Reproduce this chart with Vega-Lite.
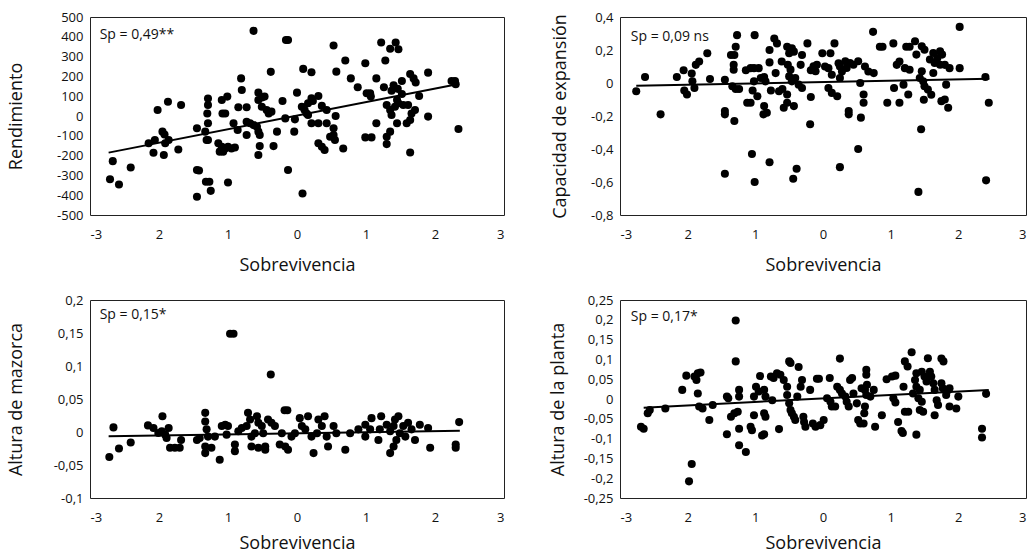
{
"$schema": "https://vega.github.io/schema/vega-lite/v6.json",
"padding": {"left": 6, "top": 10, "right": 0, "bottom": 0},
"background": "white",
"bounds": "flush",
"columns": 2,
"spacing": {"row": 85, "column": 116},
"config": {
  "font": "Open Sans",
  "view": {"stroke": "#222", "strokeWidth": 1},
  "axis": {"grid": false, "domain": false, "ticks": false, "tickSize": 0, "labelFont": "Open Sans", "labelFontSize": 13, "labelColor": "#111", "titleFont": "Open Sans", "titleFontSize": 18, "titleFontWeight": "normal", "titleColor": "#111"},
  "axisX": {"labelPadding": 13},
  "axisY": {"labelPadding": 7},
  "locale": {"number": {"decimal": ",", "thousands": ".", "grouping": [3], "currency": ["", ""], "minus": "-"}}
},
"datasets": {
  "p1": [{"x":-0.63,"y":430},{"x":-0.16,"y":384},{"x":-0.13,"y":384},{"x":0.53,"y":356},{"x":1.22,"y":371},{"x":1.43,"y":371},{"x":1.47,"y":337},{"x":1.35,"y":340},{"x":0.70,"y":280},{"x":1.28,"y":280},{"x":0.99,"y":266},{"x":-0.38,"y":223},{"x":0.09,"y":238},{"x":0.21,"y":221},{"x":0.57,"y":224},{"x":1.90,"y":219},{"x":-0.81,"y":190},{"x":0.78,"y":190},{"x":1.15,"y":190},{"x":1.64,"y":212},{"x":1.69,"y":190},{"x":1.72,"y":169},{"x":2.29,"y":177},{"x":2.30,"y":160},{"x":0.88,"y":145},{"x":1.26,"y":145},{"x":1.37,"y":128},{"x":1.52,"y":177},{"x":1.40,"y":155},{"x":1.46,"y":137},{"x":1.52,"y":111},{"x":1.77,"y":101},{"x":1.01,"y":115},{"x":1.06,"y":115},{"x":1.07,"y":98},{"x":0.0,"y":118},{"x":0.31,"y":101},{"x":0.21,"y":89},{"x":0.23,"y":76},{"x":-0.80,"y":131},{"x":-0.56,"y":118},{"x":-0.51,"y":94},{"x":-0.47,"y":98},{"x":-0.21,"y":76},{"x":-1.01,"y":98},{"x":-1.09,"y":81},{"x":-1.29,"y":88},{"x":-1.29,"y":56},{"x":-1.87,"y":72},{"x":-2.02,"y":30},{"x":-1.68,"y":56},{"x":-1.30,"y":13},{"x":-1.04,"y":13},{"x":-1.08,"y":13},{"x":-0.85,"y":44},{"x":-0.73,"y":44},{"x":-0.56,"y":81},{"x":-0.51,"y":47},{"x":-0.44,"y":30},{"x":-0.41,"y":13},{"x":-0.37,"y":22},{"x":0.07,"y":47},{"x":0.11,"y":30},{"x":0.14,"y":13},{"x":0.16,"y":64},{"x":0.36,"y":51},{"x":0.43,"y":30},{"x":0.56,"y":0},{"x":-0.03,"y":-17},{"x":-0.17,"y":-12},{"x":0.16,"y":5},{"x":0.21,"y":-37},{"x":0.31,"y":-37},{"x":0.43,"y":-37},{"x":0.53,"y":-62},{"x":1.15,"y":-37},{"x":1.30,"y":56},{"x":1.35,"y":30},{"x":1.37,"y":5},{"x":1.45,"y":81},{"x":1.47,"y":64},{"x":1.54,"y":56},{"x":1.42,"y":47},{"x":1.61,"y":56},{"x":1.66,"y":13},{"x":1.64,"y":-20},{"x":1.59,"y":-37},{"x":1.71,"y":30},{"x":1.90,"y":-3},{"x":1.45,"y":-37},{"x":2.34,"y":-66},{"x":0.99,"y":-108},{"x":1.08,"y":-108},{"x":1.35,"y":-79},{"x":1.30,"y":-105},{"x":1.30,"y":-142},{"x":1.64,"y":-184},{"x":0.48,"y":-105},{"x":0.53,"y":-96},{"x":0.55,"y":-121},{"x":0.67,"y":-164},{"x":0.31,"y":-138},{"x":0.36,"y":-155},{"x":0.40,"y":-172},{"x":-0.04,"y":-79},{"x":-0.29,"y":-79},{"x":-0.13,"y":-273},{"x":0.08,"y":-391},{"x":-0.34,"y":-152},{"x":-0.56,"y":-79},{"x":-0.54,"y":-96},{"x":-0.58,"y":-54},{"x":-0.73,"y":-29},{"x":-0.68,"y":-37},{"x":-0.63,"y":-46},{"x":-0.73,"y":-96},{"x":-0.86,"y":-71},{"x":-0.92,"y":-37},{"x":-0.54,"y":-152},{"x":-0.56,"y":-197},{"x":-1.00,"y":-155},{"x":-0.95,"y":-164},{"x":-0.90,"y":-159},{"x":-1.04,"y":-164},{"x":-1.09,"y":-155},{"x":-1.14,"y":-138},{"x":-1.12,"y":-180},{"x":-1.07,"y":-180},{"x":-1.29,"y":-121},{"x":-1.31,"y":-121},{"x":-1.33,"y":-79},{"x":-1.29,"y":-37},{"x":-1.45,"y":-62},{"x":-1.45,"y":-273},{"x":-1.42,"y":-275},{"x":-1.32,"y":-332},{"x":-1.27,"y":-332},{"x":-1.25,"y":-378},{"x":-1.45,"y":-408},{"x":-1.00,"y":-336},{"x":-1.72,"y":-169},{"x":-1.86,"y":-121},{"x":-1.91,"y":-138},{"x":-1.95,"y":-79},{"x":-1.92,"y":-93},{"x":-2.06,"y":-121},{"x":-2.15,"y":-138},{"x":-2.08,"y":-186},{"x":-1.93,"y":-197},{"x":-2.41,"y":-260},{"x":-2.67,"y":-228},{"x":-2.71,"y":-319},{"x":-2.58,"y":-346},{"x":2.24,"y":177}],
  "p2": [{"x":-2.76,"y":-0.05},{"x":-2.63,"y":0.036},{"x":-2.40,"y":-0.19},{"x":-2.16,"y":0.036},{"x":-2.06,"y":0.077},{"x":-2.05,"y":-0.045},{"x":-2.01,"y":-0.07},{"x":-1.94,"y":0.057},{"x":-1.93,"y":0.01},{"x":-1.90,"y":-0.03},{"x":-1.88,"y":0.11},{"x":-1.83,"y":0.13},{"x":-1.71,"y":0.18},{"x":-1.67,"y":0.024},{"x":-1.45,"y":0.02},{"x":-1.45,"y":-0.19},{"x":-1.45,"y":-0.17},{"x":-1.31,"y":-0.23},{"x":-1.27,"y":0.29},{"x":-1.29,"y":0.22},{"x":-1.31,"y":0.17},{"x":-1.36,"y":0.17},{"x":-1.32,"y":0.11},{"x":-1.32,"y":0.08},{"x":-1.34,"y":-0.02},{"x":-1.29,"y":-0.036},{"x":-1.24,"y":-0.036},{"x":-1.14,"y":0.077},{"x":-1.07,"y":0.09},{"x":-1.02,"y":0.09},{"x":-0.95,"y":0.09},{"x":-1.01,"y":0.29},{"x":-1.04,"y":-0.045},{"x":-0.97,"y":-0.08},{"x":-1.12,"y":-0.12},{"x":-1.07,"y":-0.12},{"x":-0.87,"y":-0.14},{"x":-0.88,"y":-0.19},{"x":-0.83,"y":-0.18},{"x":-0.92,"y":0.03},{"x":-0.87,"y":0.036},{"x":-0.85,"y":0.01},{"x":-1.02,"y":0.01},{"x":-0.79,"y":0.20},{"x":-0.79,"y":0.125},{"x":-0.77,"y":-0.045},{"x":-0.70,"y":0.06},{"x":-0.72,"y":0.27},{"x":-0.68,"y":0.24},{"x":-0.61,"y":0.13},{"x":-0.65,"y":-0.05},{"x":-0.60,"y":-0.036},{"x":-0.53,"y":-0.07},{"x":-0.53,"y":-0.12},{"x":-0.58,"y":-0.15},{"x":-0.43,"y":-0.14},{"x":-0.53,"y":0.22},{"x":-0.46,"y":0.21},{"x":-0.43,"y":0.19},{"x":-0.50,"y":0.18},{"x":-0.52,"y":0.111},{"x":-0.48,"y":0.081},{"x":-0.50,"y":0.040},{"x":-0.46,"y":0.010},{"x":-0.41,"y":0.030},{"x":-0.36,"y":-0.01},{"x":-0.31,"y":-0.03},{"x":-0.33,"y":0.11},{"x":-0.31,"y":0.17},{"x":-0.23,"y":0.24},{"x":-0.18,"y":0.077},{"x":-0.14,"y":0.101},{"x":-0.11,"y":0.071},{"x":-0.09,"y":0.111},{"x":-0.18,"y":-0.085},{"x":-0.19,"y":-0.25},{"x":-0.01,"y":0.18},{"x":0.11,"y":0.18},{"x":0.03,"y":0.10},{"x":0.08,"y":0.09},{"x":0.13,"y":0.05},{"x":0.08,"y":-0.03},{"x":0.13,"y":-0.06},{"x":0.21,"y":-0.08},{"x":0.17,"y":0.24},{"x":0.23,"y":0.12},{"x":0.25,"y":0.10},{"x":0.25,"y":0.03},{"x":0.28,"y":0.07},{"x":0.33,"y":0.132},{"x":0.35,"y":0.091},{"x":0.40,"y":0.121},{"x":0.45,"y":0.111},{"x":0.52,"y":0.132},{"x":0.38,"y":-0.17},{"x":0.38,"y":-0.19},{"x":0.56,"y":-0.21},{"x":0.55,"y":0.0},{"x":0.60,"y":-0.07},{"x":0.60,"y":-0.12},{"x":0.62,"y":0.10},{"x":0.67,"y":0.07},{"x":0.75,"y":0.06},{"x":0.74,"y":0.31},{"x":0.84,"y":0.22},{"x":0.88,"y":0.22},{"x":1.04,"y":0.24},{"x":0.95,"y":-0.12},{"x":1.13,"y":-0.12},{"x":1.05,"y":-0.03},{"x":1.09,"y":0.11},{"x":1.13,"y":0.13},{"x":1.19,"y":-0.01},{"x":1.26,"y":-0.07},{"x":1.23,"y":0.22},{"x":1.28,"y":0.22},{"x":1.21,"y":0.09},{"x":1.28,"y":0.08},{"x":1.36,"y":0.253},{"x":1.38,"y":0.172},{"x":1.46,"y":0.223},{"x":1.50,"y":0.202},{"x":1.46,"y":0.071},{"x":1.43,"y":0.030},{"x":1.48,"y":0.010},{"x":1.50,"y":-0.020},{"x":1.55,"y":-0.040},{"x":1.60,"y":-0.071},{"x":1.49,"y":-0.101},{"x":1.58,"y":0.142},{"x":1.63,"y":0.182},{"x":1.65,"y":0.121},{"x":1.69,"y":0.152},{"x":1.73,"y":0.192},{"x":1.63,"y":0.061},{"x":1.73,"y":0.111},{"x":1.76,"y":0.172},{"x":1.45,"y":-0.28},{"x":1.80,"y":0.11},{"x":1.87,"y":0.09},{"x":2.02,"y":0.09},{"x":1.82,"y":-0.01},{"x":1.75,"y":-0.11},{"x":1.80,"y":-0.10},{"x":1.85,"y":-0.15},{"x":2.02,"y":0.34},{"x":2.40,"y":0.036},{"x":2.45,"y":-0.12},{"x":2.41,"y":-0.59},{"x":1.41,"y":-0.66},{"x":-1.45,"y":-0.55},{"x":-1.01,"y":-0.60},{"x":-1.05,"y":-0.43},{"x":-0.79,"y":-0.48},{"x":-0.39,"y":-0.52},{"x":-0.44,"y":-0.58},{"x":0.25,"y":-0.51},{"x":0.52,"y":-0.40}],
  "p3": [{"x":-0.97,"y":0.149},{"x":-0.92,"y":0.149},{"x":-0.38,"y":0.087},{"x":-0.18,"y":0.033},{"x":-0.14,"y":0.033},{"x":-2.66,"y":0.007},{"x":-2.72,"y":-0.038},{"x":-2.58,"y":-0.025},{"x":-2.41,"y":-0.016},{"x":-2.16,"y":0.01},{"x":-2.08,"y":0.006},{"x":-1.95,"y":0.024},{"x":-2.01,"y":-0.0015},{"x":-1.96,"y":0.001},{"x":-1.91,"y":-0.004},{"x":-1.86,"y":0.006},{"x":-1.89,"y":-0.009},{"x":-1.84,"y":-0.024},{"x":-1.77,"y":-0.024},{"x":-1.70,"y":-0.024},{"x":-1.68,"y":-0.012},{"x":-1.45,"y":-0.012},{"x":-1.41,"y":-0.009},{"x":-1.33,"y":0.029},{"x":-1.33,"y":0.016},{"x":-1.31,"y":0.004},{"x":-1.29,"y":-0.007},{"x":-1.33,"y":-0.022},{"x":-1.33,"y":-0.032},{"x":-1.24,"y":-0.024},{"x":-1.12,"y":-0.042},{"x":-1.19,"y":-0.007},{"x":-1.09,"y":0.009},{"x":-1.04,"y":0.011},{"x":-1.00,"y":0.009},{"x":-1.02,"y":-0.004},{"x":-0.90,"y":-0.019},{"x":-0.90,"y":-0.029},{"x":-0.85,"y":0.001},{"x":-0.80,"y":0.006},{"x":-0.73,"y":0.009},{"x":-0.71,"y":0.029},{"x":-0.68,"y":0.019},{"x":-0.66,"y":-0.007},{"x":-0.61,"y":-0.002},{"x":-0.66,"y":-0.022},{"x":-0.58,"y":0.024},{"x":-0.56,"y":0.014},{"x":-0.51,"y":0.009},{"x":-0.49,"y":-0.002},{"x":-0.46,"y":-0.022},{"x":-0.56,"y":-0.024},{"x":-0.46,"y":-0.027},{"x":-0.42,"y":0.019},{"x":-0.37,"y":0.014},{"x":-0.32,"y":0.009},{"x":-0.22,"y":-0.002},{"x":-0.25,"y":-0.019},{"x":-0.17,"y":-0.022},{"x":-0.13,"y":-0.027},{"x":-0.08,"y":-0.007},{"x":-0.03,"y":-0.002},{"x":0.04,"y":0.021},{"x":0.07,"y":0.009},{"x":0.12,"y":0.004},{"x":0.16,"y":0.024},{"x":0.21,"y":-0.007},{"x":0.24,"y":-0.032},{"x":0.29,"y":-0.002},{"x":0.31,"y":0.019},{"x":0.36,"y":0.009},{"x":0.40,"y":0.024},{"x":0.43,"y":-0.007},{"x":0.45,"y":-0.022},{"x":0.53,"y":0.009},{"x":0.57,"y":-0.002},{"x":0.70,"y":-0.027},{"x":0.77,"y":-0.002},{"x":0.89,"y":0.004},{"x":0.99,"y":0.011},{"x":0.99,"y":-0.007},{"x":1.06,"y":0.004},{"x":1.08,"y":0.021},{"x":1.18,"y":-0.012},{"x":1.20,"y":0.004},{"x":1.22,"y":0.024},{"x":1.30,"y":0.011},{"x":1.35,"y":0.001},{"x":1.40,"y":0.009},{"x":1.42,"y":0.019},{"x":1.47,"y":0.024},{"x":1.35,"y":-0.032},{"x":1.40,"y":-0.022},{"x":1.44,"y":-0.012},{"x":1.49,"y":-0.002},{"x":1.54,"y":0.009},{"x":1.57,"y":-0.007},{"x":1.61,"y":0.014},{"x":1.66,"y":0.004},{"x":1.71,"y":-0.012},{"x":1.78,"y":0.011},{"x":1.90,"y":0.006},{"x":1.93,"y":-0.024},{"x":2.30,"y":-0.024},{"x":2.30,"y":-0.019},{"x":2.35,"y":0.015}],
  "p4": [{"x":-1.29,"y":0.198},{"x":-1.29,"y":0.095},{"x":-1.98,"y":-0.208},{"x":-1.94,"y":-0.164},{"x":-2.69,"y":-0.07},{"x":-2.65,"y":-0.075},{"x":-2.59,"y":-0.036},{"x":-2.56,"y":-0.028},{"x":-2.33,"y":-0.024},{"x":-2.08,"y":0.023},{"x":-2.02,"y":0.059},{"x":-1.90,"y":0.057},{"x":-1.85,"y":0.065},{"x":-1.81,"y":0.067},{"x":-1.87,"y":0.048},{"x":-1.85,"y":0.014},{"x":-1.83,"y":-0.019},{"x":-1.78,"y":-0.024},{"x":-1.68,"y":-0.053},{"x":-1.63,"y":-0.015},{"x":-1.42,"y":0.006},{"x":-1.40,"y":0.002},{"x":-1.42,"y":-0.089},{"x":-1.36,"y":-0.045},{"x":-1.31,"y":-0.036},{"x":-1.26,"y":-0.032},{"x":-1.24,"y":0.023},{"x":-1.24,"y":0.006},{"x":-1.24,"y":-0.075},{"x":-1.24,"y":-0.117},{"x":-1.14,"y":-0.134},{"x":-1.07,"y":-0.07},{"x":-1.05,"y":-0.079},{"x":-1.02,"y":-0.041},{"x":-1.02,"y":0.006},{"x":-0.99,"y":0.031},{"x":-0.95,"y":0.019},{"x":-0.87,"y":0.023},{"x":-0.85,"y":0.006},{"x":-0.93,"y":0.058},{"x":-0.87,"y":-0.036},{"x":-0.85,"y":-0.045},{"x":-0.90,"y":-0.092},{"x":-0.87,"y":-0.089},{"x":-0.77,"y":0.057},{"x":-0.73,"y":0.053},{"x":-0.68,"y":0.065},{"x":-0.63,"y":0.061},{"x":-0.58,"y":0.048},{"x":-0.53,"y":0.031},{"x":-0.75,"y":-0.003},{"x":-0.65,"y":-0.076},{"x":-0.50,"y":0.095},{"x":-0.48,"y":0.091},{"x":-0.36,"y":0.081},{"x":-0.53,"y":0.010},{"x":-0.50,"y":-0.011},{"x":-0.48,"y":-0.028},{"x":-0.46,"y":-0.036},{"x":-0.43,"y":-0.045},{"x":-0.41,"y":-0.053},{"x":-0.31,"y":0.048},{"x":-0.33,"y":0.031},{"x":-0.38,"y":0.006},{"x":-0.29,"y":-0.045},{"x":-0.28,"y":-0.058},{"x":-0.26,"y":-0.070},{"x":-0.15,"y":-0.062},{"x":-0.11,"y":-0.070},{"x":-0.04,"y":-0.066},{"x":0.01,"y":-0.053},{"x":0.06,"y":0.002},{"x":0.11,"y":-0.007},{"x":0.13,"y":-0.019},{"x":0.18,"y":-0.019},{"x":0.21,"y":0.031},{"x":0.25,"y":0.023},{"x":0.28,"y":0.014},{"x":0.33,"y":0.006},{"x":0.35,"y":-0.007},{"x":0.38,"y":-0.019},{"x":0.40,"y":0.048},{"x":0.43,"y":0.053},{"x":0.45,"y":0.014},{"x":0.50,"y":-0.011},{"x":0.52,"y":-0.053},{"x":0.55,"y":-0.062},{"x":0.60,"y":-0.062},{"x":0.57,"y":0.027},{"x":0.62,"y":0.023},{"x":0.65,"y":0.036},{"x":0.64,"y":0.010},{"x":0.70,"y":0.006},{"x":0.75,"y":0.023},{"x":-0.19,"y":0.023},{"x":-0.09,"y":0.051},{"x":-0.06,"y":0.051},{"x":0.10,"y":0.053},{"x":0.25,"y":0.102},{"x":0.62,"y":-0.019},{"x":0.61,"y":-0.036},{"x":0.64,"y":0.074},{"x":0.64,"y":0.061},{"x":0.77,"y":-0.07},{"x":0.87,"y":-0.041},{"x":0.94,"y":0.05},{"x":1.02,"y":0.057},{"x":1.07,"y":0.059},{"x":1.04,"y":0.002},{"x":1.07,"y":-0.009},{"x":1.11,"y":-0.058},{"x":1.16,"y":-0.081},{"x":1.18,"y":-0.086},{"x":1.19,"y":0.031},{"x":1.21,"y":-0.032},{"x":1.26,"y":-0.032},{"x":1.21,"y":0.095},{"x":1.25,"y":0.082},{"x":1.31,"y":0.118},{"x":1.38,"y":-0.09},{"x":1.55,"y":0.103},{"x":1.75,"y":0.102},{"x":1.78,"y":0.095},{"x":2.35,"y":-0.075},{"x":2.35,"y":-0.097},{"x":2.41,"y":0.013},{"x":1.36,"y":0.048},{"x":1.38,"y":0.031},{"x":1.43,"y":0.023},{"x":1.33,"y":0.014},{"x":1.41,"y":0.002},{"x":1.46,"y":-0.007},{"x":1.38,"y":0.065},{"x":1.46,"y":0.069},{"x":1.50,"y":0.057},{"x":1.53,"y":0.044},{"x":1.58,"y":0.069},{"x":1.60,"y":0.057},{"x":1.48,"y":-0.032},{"x":1.43,"y":-0.028},{"x":1.63,"y":0.040},{"x":1.65,"y":0.023},{"x":1.68,"y":-0.003},{"x":1.70,"y":-0.015},{"x":1.65,"y":-0.041},{"x":1.75,"y":0.040},{"x":1.77,"y":0.027},{"x":1.82,"y":0.010},{"x":1.85,"y":0.023},{"x":1.87,"y":-0.019},{"x":2.00,"y":0.006},{"x":1.97,"y":-0.024},{"x":1.87,"y":0.027}]
},
"concat": [
  {
    "width": 414, "height": 198,
    "encoding": {
      "x": {"field": "x", "type": "quantitative", "scale": {"domain": [-3, 3], "nice": false}, "axis": {"values": [-3,-2,-1,0,1,2,3], "labelExpr": "datum.value == -3 ? '-3' : toString(abs(datum.value))", "title": "Sobrevivencia", "titleY": 50, "titleBaseline": "middle"}},
      "y": {"field": "y", "type": "quantitative", "scale": {"domain": [-500, 500], "nice": false, "zero": false}, "axis": {"values": [-500,-400,-300,-200,-100,0,100,200,300,400,500], "format": "d", "title": "Rendimiento", "titleX": -74, "titleBaseline": "middle"}}
    },
    "layer": [
      {"data": {"name": "p1"}, "mark": {"type": "point", "filled": true, "shape": "circle", "size": 65, "color": "black", "opacity": 1}},
      {"data": {"values": [{"x": -2.73, "y": -185}, {"x": 2.34, "y": 162}]}, "mark": {"type": "line", "color": "black", "strokeWidth": 2}, "encoding": {}},
      {"data": {"values": [{"x": -2.86, "y": 409, "label": "Sp = 0,49**"}]}, "mark": {"type": "text", "align": "left", "baseline": "middle", "fontSize": 14, "font": "Open Sans", "color": "#111"}, "encoding": {"text": {"field": "label"}}}
    ]
  },
  {
    "width": 406, "height": 198,
    "encoding": {
      "x": {"field": "x", "type": "quantitative", "scale": {"domain": [-3, 3], "nice": false}, "axis": {"values": [-3,-2,-1,0,1,2,3], "labelExpr": "datum.value == -3 ? '-3' : toString(abs(datum.value))", "title": "Sobrevivencia", "titleY": 50, "titleBaseline": "middle"}},
      "y": {"field": "y", "type": "quantitative", "scale": {"domain": [-0.8, 0.4], "nice": false, "zero": false}, "axis": {"values": [-0.8,-0.6,-0.4,-0.2,0,0.2,0.4], "format": "~f", "title": "Capacidad de expansión", "titleX": -60, "titleBaseline": "middle"}}
    },
    "layer": [
      {"data": {"name": "p2"}, "mark": {"type": "point", "filled": true, "shape": "circle", "size": 65, "color": "black", "opacity": 1}},
      {"data": {"values": [{"x": -2.76, "y": -0.016}, {"x": 2.46, "y": 0.026}]}, "mark": {"type": "line", "color": "black", "strokeWidth": 2}, "encoding": {}},
      {"data": {"values": [{"x": -2.84, "y": 0.279, "label": "Sp = 0,09 ns"}]}, "mark": {"type": "text", "align": "left", "baseline": "middle", "fontSize": 14, "font": "Open Sans", "color": "#111"}, "encoding": {"text": {"field": "label"}}}
    ]
  },
  {
    "width": 414, "height": 198,
    "encoding": {
      "x": {"field": "x", "type": "quantitative", "scale": {"domain": [-3, 3], "nice": false}, "axis": {"values": [-3,-2,-1,0,1,2,3], "labelExpr": "datum.value == -3 ? '-3' : toString(abs(datum.value))", "title": "Sobrevivencia", "titleY": 45, "titleBaseline": "middle"}},
      "y": {"field": "y", "type": "quantitative", "scale": {"domain": [-0.1, 0.2], "nice": false, "zero": false}, "axis": {"values": [-0.1,-0.05,0,0.05,0.1,0.15,0.2], "format": "~f", "title": "Altura de mazorca", "titleX": -74, "titleBaseline": "middle"}}
    },
    "layer": [
      {"data": {"name": "p3"}, "mark": {"type": "point", "filled": true, "shape": "circle", "size": 65, "color": "black", "opacity": 1}},
      {"data": {"values": [{"x": -2.73, "y": -0.0066}, {"x": 2.36, "y": 0.002}]}, "mark": {"type": "line", "color": "black", "strokeWidth": 2}, "encoding": {}},
      {"data": {"values": [{"x": -2.86, "y": 0.177, "label": "Sp = 0,15*"}]}, "mark": {"type": "text", "align": "left", "baseline": "middle", "fontSize": 14, "font": "Open Sans", "color": "#111"}, "encoding": {"text": {"field": "label"}}}
    ]
  },
  {
    "width": 406, "height": 198,
    "encoding": {
      "x": {"field": "x", "type": "quantitative", "scale": {"domain": [-3, 3], "nice": false}, "axis": {"values": [-3,-2,-1,0,1,2,3], "labelExpr": "datum.value == -3 ? '-3' : toString(abs(datum.value))", "title": "Sobrevivencia", "titleY": 45, "titleBaseline": "middle"}},
      "y": {"field": "y", "type": "quantitative", "scale": {"domain": [-0.25, 0.25], "nice": false, "zero": false}, "axis": {"values": [-0.25,-0.2,-0.15,-0.1,-0.05,0,0.05,0.1,0.15,0.2,0.25], "format": "~f", "title": "Altura de la planta", "titleX": -62, "titleBaseline": "middle"}}
    },
    "layer": [
      {"data": {"name": "p4"}, "mark": {"type": "point", "filled": true, "shape": "circle", "size": 65, "color": "black", "opacity": 1}},
      {"data": {"values": [{"x": -2.65, "y": -0.022}, {"x": 2.45, "y": 0.023}]}, "mark": {"type": "line", "color": "black", "strokeWidth": 2}, "encoding": {}},
      {"data": {"values": [{"x": -2.84, "y": 0.207, "label": "Sp = 0,17*"}]}, "mark": {"type": "text", "align": "left", "baseline": "middle", "fontSize": 14, "font": "Open Sans", "color": "#111"}, "encoding": {"text": {"field": "label"}}}
    ]
  }
]
}
